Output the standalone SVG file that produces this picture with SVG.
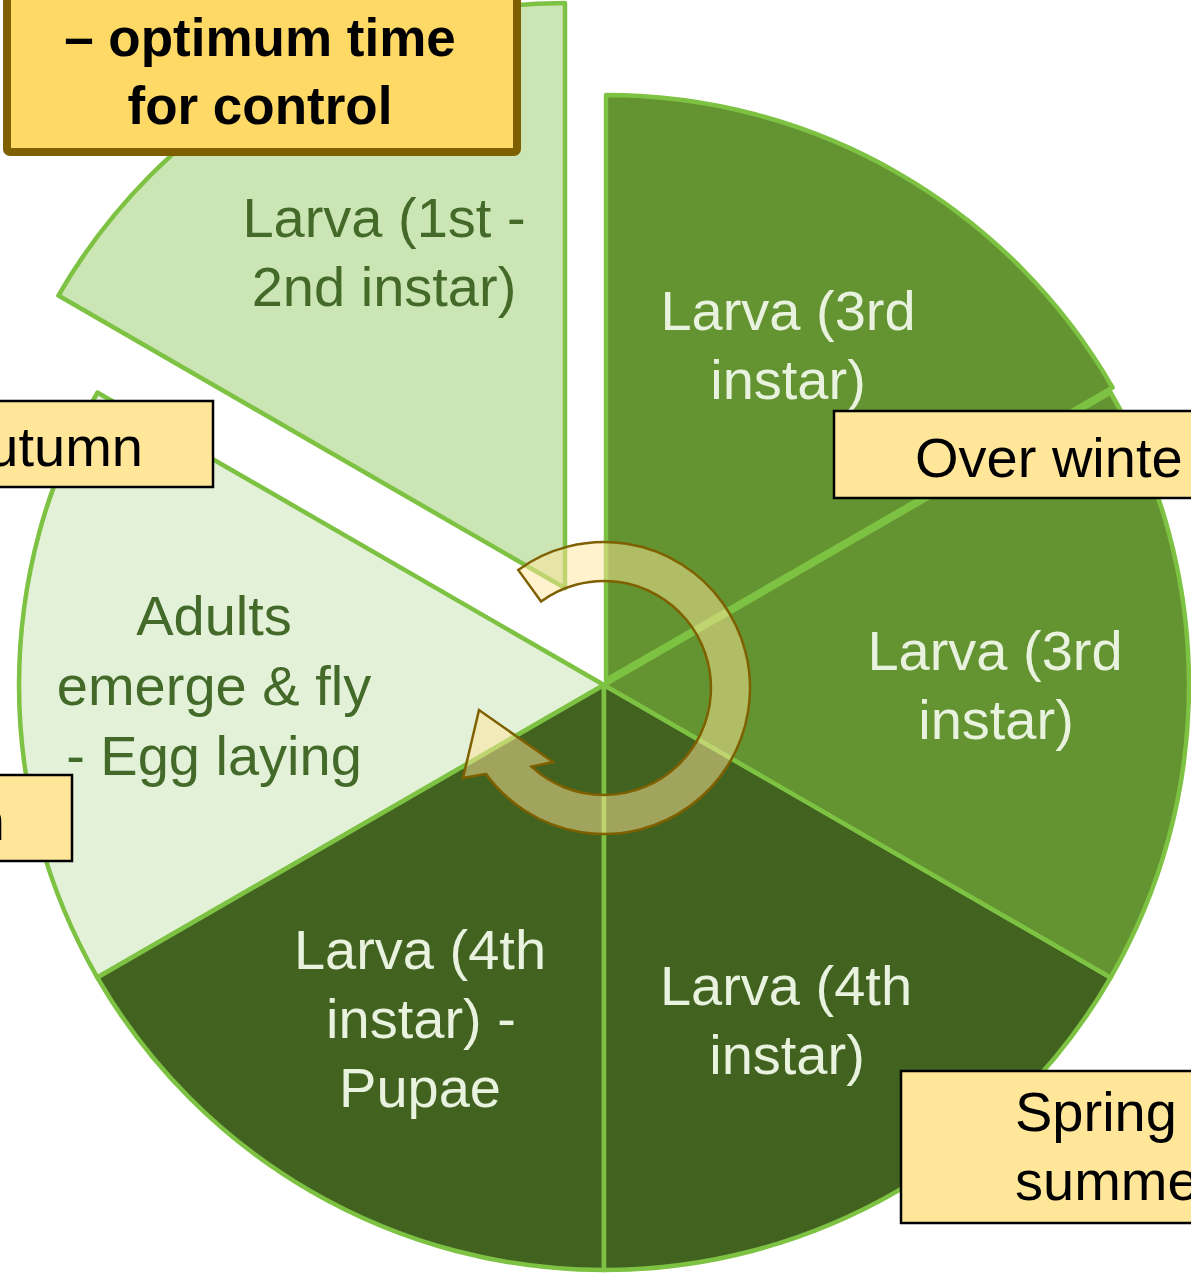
<svg xmlns="http://www.w3.org/2000/svg" width="1191" height="1274" viewBox="0 0 1191 1274">
  <style>
    .wedge { stroke: #7DC242; stroke-width: 4.5; stroke-linejoin: round; }
    .mid { fill: #639431; }
    .dark { fill: #426220; }
    .pale { fill: #E4F1D9; }
    .light { fill: #CCE5B4; }
    .t { font-family: "Liberation Sans", Arial, sans-serif; font-size: 56px; text-anchor: middle; }
    .tl { fill: #E8F2DE; }
    .td { fill: #436A29; }
    .lbl { fill: #FFE699; stroke: #000000; stroke-width: 2.5; }
    .lt { font-family: "Liberation Sans", Arial, sans-serif; font-size: 56px; fill: #000000; }
    .bold { font-family: "Liberation Sans", Arial, sans-serif; font-size: 53px; font-weight: bold; fill: #000000; text-anchor: middle; }
  </style>

  <g id="wedge-larva-1st-2nd">
    <path class="wedge light" d="M565,588 L58.4,295.5 A585,585 0 0 1 565,3 Z"/>
    <text class="t td" x="384" y="237">Larva (1st -</text>
    <text class="t td" x="384" y="306">2nd instar)</text>
  </g>
  <g id="wedge-adults">
    <path class="wedge pale" d="M604,685 L97.4,977.5 A585,585 0 0 1 97.4,392.5 Z"/>
    <text class="t td" x="214" y="635">Adults</text>
    <text class="t td" x="214" y="705">emerge &amp; fly</text>
    <text class="t td" x="214" y="775">- Egg laying</text>
  </g>
  <g id="wedge-larva-4th-pupae">
    <path class="wedge dark" d="M604,685 L604,1270 A585,585 0 0 1 97.4,977.5 Z"/>
    <text class="t tl" x="420" y="969">Larva (4th</text>
    <text class="t tl" x="421" y="1038">instar) -</text>
    <text class="t tl" x="420" y="1107">Pupae</text>
  </g>
  <g id="wedge-larva-4th">
    <path class="wedge dark" d="M604,685 L1110.6,977.5 A585,585 0 0 1 604,1270 Z"/>
    <text class="t tl" x="786" y="1005">Larva (4th</text>
    <text class="t tl" x="787" y="1074">instar)</text>
  </g>
  <g id="wedge-larva-3rd-b">
    <path class="wedge mid" d="M604,685 L1110.6,392.5 A585,585 0 0 1 1110.6,977.5 Z"/>
    <text class="t tl" x="995" y="670">Larva (3rd</text>
    <text class="t tl" x="996" y="739">instar)</text>
  </g>
  <g id="wedge-larva-3rd-a">
    <path class="wedge mid" d="M606,680 L606,95 A585,585 0 0 1 1112.6,387.5 Z"/>
    <text class="t tl" x="788" y="330">Larva (3rd</text>
    <text class="t tl" x="788" y="399">instar)</text>
  </g>

  <g id="connectors">
    <path d="M518.2,569.9 A146,146 0 1 1 485.9,773.8 L463,778 L479,710 L553,762 L531.4,766.6 A107,107 0 1 0 541.1,601.4 Z" fill="#FFE699" fill-opacity="0.5" stroke="#7F6000" stroke-width="2.5" stroke-linejoin="miter"/>
  </g>

  <g id="box-optimum">
    <rect x="7" y="-200" width="510" height="352" rx="3" fill="#FFD966" stroke="#7F6000" stroke-width="8"/>
    <text class="bold" x="260" y="56">– optimum time</text>
    <text class="bold" x="260" y="124">for control</text>
  </g>
  <g id="label-autumn">
    <rect class="lbl" x="-10" y="401" width="223" height="86"/>
    <text class="lt" x="143" y="466" text-anchor="end">utumn</text>
  </g>
  <g id="label-left">
    <rect class="lbl" x="-10" y="775" width="82" height="86"/>
    <text class="lt" x="5" y="840" text-anchor="end">n</text>
  </g>
  <g id="label-winter">
    <rect class="lbl" x="834" y="411" width="400" height="87"/>
    <text class="lt" x="915" y="477">Over winte</text>
  </g>
  <g id="label-spring">
    <rect class="lbl" x="901" y="1071" width="340" height="152"/>
    <text class="lt" x="1015" y="1131">Spring –</text>
    <text class="lt" x="1015" y="1200">summe</text>
  </g>
</svg>
